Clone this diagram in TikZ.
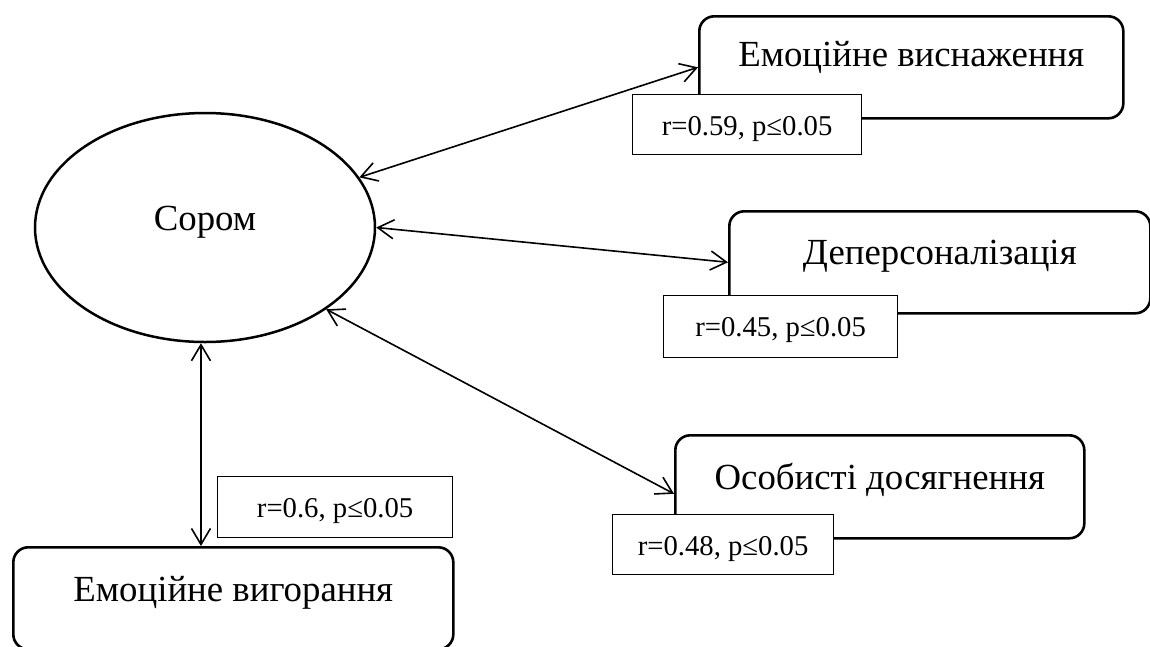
\documentclass[tikz,border=0pt]{standalone}
\usepackage{fontspec}
\setmainfont{Liberation Serif}
\usetikzlibrary{shapes.geometric,arrows.meta,calc}
\tikzset{
  conbox/.style={draw, line width=2.6pt, rounded corners=15pt, fill=white, inner sep=0pt,
    anchor=north west, text height=50pt, text depth=52pt, font=\fontsize{36.8}{42}\selectfont},
  corrlabel/.style={draw, line width=1.2pt, fill=white, inner sep=0pt, anchor=north west,
    text height=41pt, text depth=20pt, font=\fontsize{28.7}{32}\selectfont},
  link/.style={line width=1.6pt, {Straight Barb[length=16pt,width=19pt]}-{Straight Barb[length=16pt,width=19pt]}}
}
\begin{document}
\begin{tikzpicture}[x=1pt,y=-1pt]
\useasboundingbox (0,0) rectangle (1150,646);
\node[ellipse, draw, line width=2.5pt, minimum width=340pt, minimum height=229pt, inner sep=0pt,
  text height=24pt, text depth=18pt, font=\fontsize{36.8}{42}\selectfont] (sorom) at (205,227.5) {Сором};

\node[conbox, minimum width=424pt] (b1) at (698,15) {Емоційне виснаження};
\node[conbox, minimum width=421pt, text height=53pt, text depth=49pt] (b2) at (728,210) {Деперсоналізація};
\node[conbox, minimum width=409pt, text height=54pt, text depth=49pt] (b3) at (674,434) {Особисті досягнення};
\node[conbox, minimum width=440pt, text height=54pt, text depth=48pt] (b4) at (12,546) {Емоційне вигорання};

\draw[link] (sorom) -- (b1.west);
\draw[link] (sorom.east) -- (b2.west);
\draw[link] (sorom.-34.5) -- ($(b3.west)+(0,7)$);
\draw[link] (sorom.-92) -- (sorom.-92 |- b4.north);

\node[corrlabel, minimum width=229pt, text depth=19pt] (l1) at (632,94) {r=0.59, p≤0.05};
\node[corrlabel, minimum width=234pt, text depth=21pt] (l2) at (663,295) {r=0.45, p≤0.05};
\node[corrlabel, minimum width=221pt, text depth=19pt] (l3) at (612,514) {r=0.48, p≤0.05};
\node[corrlabel, minimum width=235pt] (l4) at (217,476) {r=0.6, p≤0.05};
\end{tikzpicture}
\end{document}
